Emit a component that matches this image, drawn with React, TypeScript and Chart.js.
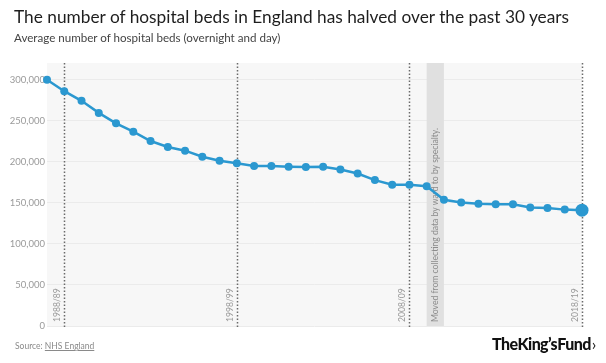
import React, { useEffect, useRef } from "react";
import { Chart, registerables } from "chart.js";

Chart.register(...registerables);

const years = [
  "1987/88", "1988/89", "1989/90", "1990/91", "1991/92", "1992/93", "1993/94", "1994/95",
  "1995/96", "1996/97", "1997/98", "1998/99", "1999/00", "2000/01", "2001/02", "2002/03",
  "2003/04", "2004/05", "2005/06", "2006/07", "2007/08", "2008/09", "2009/10", "2010/11",
  "2011/12", "2012/13", "2013/14", "2014/15", "2015/16", "2016/17", "2017/18", "2018/19",
];

const beds = [
  299700, 285700, 274000, 259300, 246600, 236500, 225100, 217800,
  213300, 206000, 201100, 197900, 194600, 194600, 193800, 193400,
  193800, 190500, 185600, 177500, 171800, 171800, 170100, 153600,
  150200, 148600, 148200, 148200, 144100, 143700, 141600, 140900,
];

const markerYears = ["1988/89", "1998/99", "2008/09", "2018/19"];
const bandStart = "2009/10";
const bandEnd = "2010/11";
const bandNote = "Moved from collecting data by ward to by specialty.";
const yTicks = [0, 50000, 100000, 150000, 200000, 250000, 300000];
const yMax = 320000;

const FONT = "Lato, 'Source Sans Pro', sans-serif";
const BLUE = "#2b98d0";

const overlayPlugin = {
  id: "overlay",
  beforeDraw(chart: any) {
    const { ctx, chartArea } = chart;
    ctx.save();
    ctx.fillStyle = "#f7f7f7";
    ctx.fillRect(chartArea.left, chartArea.top, chartArea.right - chartArea.left, chartArea.bottom - chartArea.top);
    ctx.restore();
  },
  beforeDatasetsDraw(chart: any) {
    const { ctx, chartArea, scales } = chart;
    const x = scales.x;
    ctx.save();
    const x0 = x.getPixelForValue(years.indexOf(bandStart));
    const x1 = x.getPixelForValue(years.indexOf(bandEnd));
    ctx.fillStyle = "#e0e0e0";
    ctx.fillRect(x0, chartArea.top, x1 - x0, chartArea.bottom - chartArea.top);
    ctx.save();
    ctx.translate((x0 + x1) / 2, chartArea.bottom - 4);
    ctx.rotate(-Math.PI / 2);
    ctx.fillStyle = "#8c8c8c";
    ctx.font = `8.6px ${FONT}`;
    ctx.textAlign = "left";
    ctx.textBaseline = "middle";
    ctx.fillText(bandNote, 0, 0);
    ctx.restore();
    markerYears.forEach((yr) => {
      const px = Math.round(x.getPixelForValue(years.indexOf(yr))) + 0.5;
      ctx.strokeStyle = "#6a6a6a";
      ctx.lineWidth = 1.5;
      ctx.setLineDash([1.5, 2]);
      ctx.beginPath();
      ctx.moveTo(px, chartArea.top);
      ctx.lineTo(px, chartArea.bottom + 3);
      ctx.stroke();
      ctx.setLineDash([]);
      ctx.save();
      ctx.translate(px - 7, chartArea.bottom - 4);
      ctx.rotate(-Math.PI / 2);
      ctx.fillStyle = "#9a9a9a";
      ctx.font = `8.6px ${FONT}`;
      ctx.textAlign = "left";
      ctx.textBaseline = "middle";
      ctx.fillText(yr, 0, 0);
      ctx.restore();
    });
    ctx.restore();
  },
};

export default function App() {
  const ref = useRef<HTMLCanvasElement | null>(null);

  useEffect(() => {
    if (!ref.current) return;
    const radii = beds.map((_, i) => (i === beds.length - 1 ? 6.5 : 4));
    const chart = new Chart(ref.current, {
      type: "line",
      data: {
        labels: years,
        datasets: [
          {
            data: beds,
            borderColor: BLUE,
            backgroundColor: BLUE,
            pointBackgroundColor: BLUE,
            pointBorderWidth: 0,
            pointRadius: radii,
            borderWidth: 2.5,
            tension: 0,
            clip: false as any,
          },
        ],
      },
      options: {
        animation: false,
        responsive: false,
        maintainAspectRatio: false,
        events: [],
        layout: { padding: { top: 63, bottom: 37, right: 24, left: 0 } },
        plugins: {
          legend: { display: false },
          tooltip: { enabled: false },
          title: { display: false },
        },
        scales: {
          x: {
            type: "category",
            display: false,
            offset: false,
          },
          y: {
            min: 0,
            max: yMax,
            border: { display: false },
            grid: { color: "#ebebeb", drawTicks: false, lineWidth: 1 },
            afterBuildTicks: (s: any) => {
              s.ticks = yTicks.map((v) => ({ value: v }));
            },
            afterFit: (s: any) => {
              s.width = 47;
            },
            ticks: {
              padding: 2,
              color: "#9a9a9a",
              autoSkip: false,
              font: { family: FONT, size: 9.5 },
              callback: (v: any) => Number(v).toLocaleString("en-US"),
            },
          },
        },
      },
      plugins: [overlayPlugin],
    });
    return () => chart.destroy();
  }, []);

  return (
    <div style={{ position: "absolute", left: 0, top: 0, width: 606, height: 363, background: "#fff", fontFamily: FONT }}>
      <canvas ref={ref} width={606} height={363} style={{ position: "absolute", left: 0, top: 0 }} />
      <div style={{ position: "absolute", left: 14, top: 6, fontSize: 17.3, color: "#1e1e1e", whiteSpace: "nowrap" }}>
        The number of hospital beds in England has halved over the past 30 years
      </div>
      <div style={{ position: "absolute", left: 14, top: 31, fontSize: 11.6, color: "#444", whiteSpace: "nowrap" }}>
        Average number of hospital beds (overnight and day)
      </div>
      <div style={{ position: "absolute", left: 15, top: 341, fontSize: 8.5, color: "#8a8a8a", whiteSpace: "nowrap" }}>
        Source: <span style={{ textDecoration: "underline" }}>NHS England</span>
      </div>
      <div style={{ position: "absolute", left: 492, top: 334, fontSize: 16, fontWeight: 900, color: "#111", letterSpacing: -0.6, wordSpacing: -3, whiteSpace: "nowrap" }}>
        The King’s Fund<span style={{ fontWeight: 400, marginLeft: 1 }}>›</span>
      </div>
    </div>
  );
}
